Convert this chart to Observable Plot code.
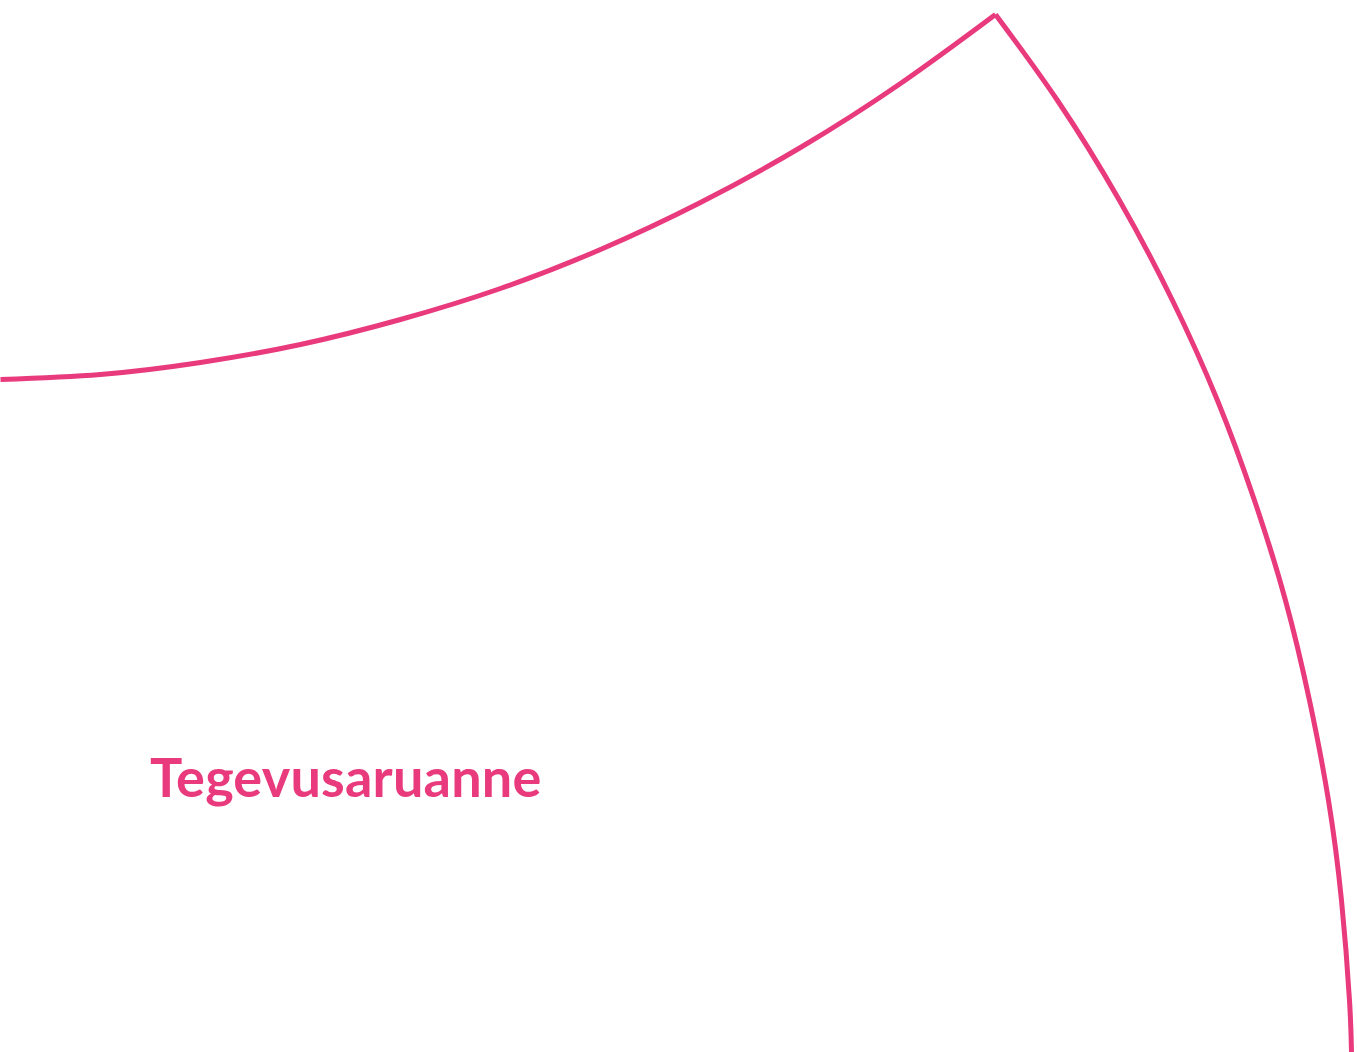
<!DOCTYPE html>
<html>
<head>
<meta charset="utf-8">
<script src="https://cdn.jsdelivr.net/npm/d3@7"></script>
<script src="https://cdn.jsdelivr.net/npm/@observablehq/plot@0.6"></script>
<style>
  html, body { margin: 0; padding: 0; background: #fff; }
  #wrap { position: relative; width: 1357px; height: 1052px; overflow: hidden; }
  #title {
    position: absolute; left: 150px; top: 744px;
    font-family: Lato, "Open Sans", sans-serif; font-weight: 700;
    font-size: 54px; color: #E83A7C; letter-spacing: 0.2px; margin: 0;
  }
</style>
</head>
<body>
<div id="wrap"><h1 id="title">Tegevusaruanne</h1></div>
<script>
// Left arc
const leftX = [0, 100, 200, 300, 400, 500, 600, 700, 800, 900, 995];
const leftY = [379, 374, 362, 344, 319, 288, 249, 202, 147, 83, 14];
// Right arc
const rightX = [995, 1057, 1119, 1172, 1217, 1254, 1285, 1309, 1328, 1341, 1349, 1351];
const rightY = [14, 100, 200, 300, 400, 500, 600, 700, 800, 900, 1000, 1052];

const arcs = [
  ...leftX.map((x, i) => ({arc: "left", x, y: leftY[i]})),
  ...rightX.map((x, i) => ({arc: "right", x, y: rightY[i]}))
];

const chart = Plot.plot({
  width: 1357,
  height: 1052,
  margin: 0,
  x: {domain: [0, 1357], range: [0, 1357], axis: null},
  y: {domain: [0, 1052], range: [0, 1052], axis: null},
  marks: [
    Plot.line(arcs, {x: "x", y: "y", z: "arc", stroke: "#E83A7C", strokeWidth: 5, curve: "natural", strokeLinejoin: "miter", strokeLinecap: "butt"})
  ]
});
chart.style.position = "absolute";
chart.style.left = "0";
chart.style.top = "0";
document.getElementById("wrap").prepend(chart);
</script>
</body>
</html>
